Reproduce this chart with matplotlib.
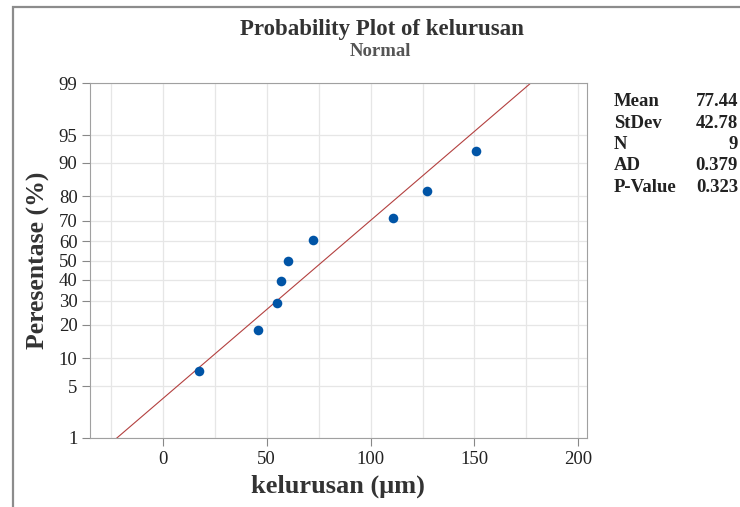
import numpy as np
import matplotlib.pyplot as plt
from matplotlib.patches import Rectangle
from statistics import NormalDist

# data
values = [17.5, 46.0, 55.0, 57.0, 60.5, 72.5, 111.0, 127.0, 150.5]
mean, stdev = 77.44, 42.78
stat_labels = ['Mean', 'StDev', 'N', 'AD', 'P-Value']
stat_values = ['77.44', '42.78', '9', '0.379', '0.323']
pct_ticks = [1, 5, 10, 20, 30, 40, 50, 60, 70, 80, 90, 95, 99]
x_ticks = [0, 50, 100, 150, 200]

nd = NormalDist()
_ppf = np.vectorize(lambda p: nd.inv_cdf(min(max(p, 1e-9), 100 - 1e-9) / 100.0), otypes=[float])
_cdf = np.vectorize(lambda z: nd.cdf(z) * 100.0, otypes=[float])

def fwd(p):
    return _ppf(np.asarray(p, dtype=float))

def inv(z):
    return _cdf(np.asarray(z, dtype=float))

# Minitab median ranks
n = len(values)
pct = [(i - 0.3) / (n + 0.4) * 100 for i in range(1, n + 1)]

plt.rcParams['font.family'] = ['Liberation Serif', 'DejaVu Serif']

fig = plt.figure(figsize=(7.4, 5.07), dpi=100)
fig.patches.append(Rectangle((13 / 740, -0.1), 1.2, 1 - 7 / 507 + 0.1, transform=fig.transFigure,
                             fill=False, edgecolor='#8c8c8c', linewidth=1.6))

ax = fig.add_axes([90 / 740, 1 - 438 / 507, (586.7 - 90) / 740, (438 - 83.3) / 507])
ax.set_yscale('function', functions=(fwd, inv))

line_p = np.linspace(1, 99, 200)
line_x = [mean + stdev * nd.inv_cdf(p / 100) for p in line_p]
ax.plot(line_x, line_p, color='#b3403f', linewidth=0.8, zorder=2)
ax.scatter(values, pct, s=48, color='#0054a6', zorder=3, linewidths=0)

ax.set_xlim(-35, 204)
ax.set_ylim(1, 99)
ax.set_yticks(pct_ticks)
ax.set_yticklabels([str(p) for p in pct_ticks])
ax.yaxis.set_minor_locator(plt.NullLocator())
ax.set_xticks(x_ticks)
ax.set_xticks(np.arange(-25, 201, 25), minor=True)
ax.tick_params(axis='x', which='minor', length=0)
ax.tick_params(which='major', length=6, color='#888888', labelsize=13.5, labelcolor='#222222', pad=3)
ax.grid(True, which='both', color='#e6e6e6', linewidth=0.9)
ax.set_axisbelow(True)
for s in ax.spines.values():
    s.set_color('#a0a0a0')

ax.set_xlabel('kelurusan (\u03bcm)', fontsize=19, fontweight='bold', color='#333333', labelpad=5)
ax.set_ylabel('Peresentase (%)', fontsize=18.5, fontweight='bold', color='#333333', labelpad=6)

fig.text(382 / 740, 1 - 30 / 507, 'Probability Plot of kelurusan', ha='center', va='center',
         fontsize=16.5, fontweight='bold', color='#333333')
fig.text(380 / 740, 1 - 52 / 507, 'Normal', ha='center', va='center',
         fontsize=13.5, fontweight='bold', color='#555555')

for i, (lab, val) in enumerate(zip(stat_labels, stat_values)):
    y = 1 - (102 + i * 21.25) / 507
    fig.text(614 / 740, y, lab, ha='left', va='center', fontsize=13.5, fontweight='bold', color='#222222')
    fig.text(738 / 740, y, val, ha='right', va='center', fontsize=13.5, fontweight='bold', color='#222222')

fig.savefig('out.png', dpi=100)
